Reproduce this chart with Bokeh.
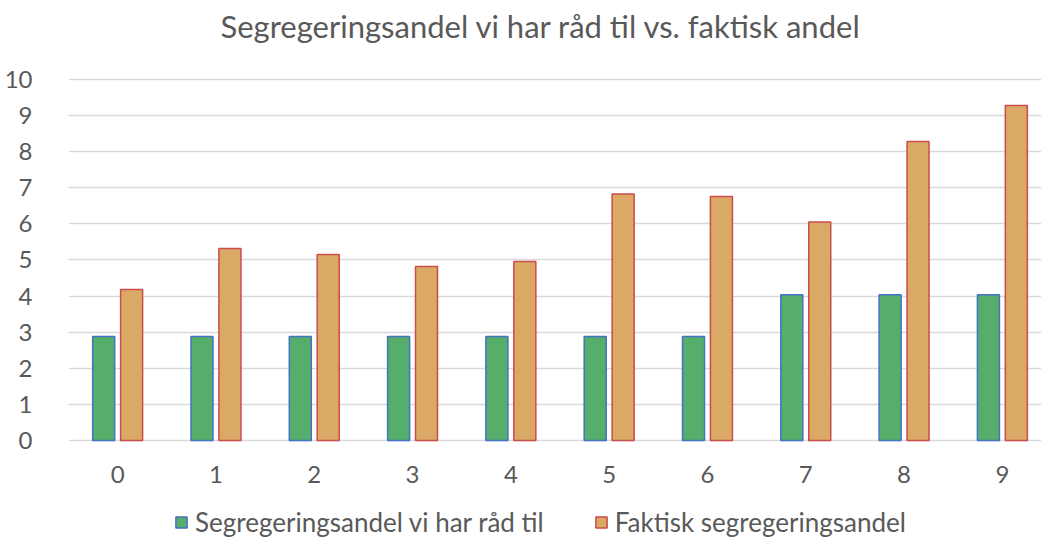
from bokeh.plotting import figure
from bokeh.models import ColumnDataSource, Range1d, FixedTicker, Legend, LegendItem
from bokeh.transform import dodge
from bokeh.embed import file_html
from bokeh.resources import INLINE

categories = ["0", "1", "2", "3", "4", "5", "6", "7", "8", "9"]
afford = [2.88, 2.88, 2.88, 2.88, 2.88, 2.88, 2.88, 4.04, 4.04, 4.04]
actual = [4.18, 5.32, 5.15, 4.82, 4.96, 6.83, 6.76, 6.05, 8.28, 9.28]
y_ticks = [0, 1, 2, 3, 4, 5, 6, 7, 8, 9, 10]

FONT = "Lato"
TXT = "#595959"

src = ColumnDataSource(dict(x=list(range(len(categories))), afford=afford, actual=actual))

# frame spans the area under the title down to the bottom edge; y=0..10 sits at 440..79 px
p = figure(frame_width=973, frame_height=491, output_backend="svg", toolbar_location=None,
           x_range=Range1d(-0.5, 9.398), y_range=Range1d(-2.715, 10.886),
           title="Segregeringsandel vi har råd til vs. faktisk andel")
p.min_border_left = 68
p.min_border_right = 0
p.min_border_top = 47
p.min_border_bottom = 0
p.outline_line_color = None

r1 = p.vbar(x=dodge("x", -0.142, range=p.x_range), top="afford", bottom=0, width=0.224, source=src,
            fill_color="#56AE6B", line_color="#4472C4", line_width=1.5)
r2 = p.vbar(x=dodge("x", 0.142, range=p.x_range), top="actual", bottom=0, width=0.224, source=src,
            fill_color="#D9A965", line_color="#CC4B4B", line_width=1.5)

p.title.align = "left"
p.title.offset = 152
p.title.text_font = FONT
p.title.text_font_size = "31px"
p.title.text_font_style = "normal"
p.title.text_color = TXT
p.title.standoff = 6

p.xgrid.grid_line_color = None
p.ygrid.grid_line_color = "#D9D9D9"
p.ygrid.grid_line_width = 1.5
p.ygrid.ticker = FixedTicker(ticks=y_ticks)

p.yaxis.ticker = FixedTicker(ticks=y_ticks)
p.xaxis.ticker = FixedTicker(ticks=list(range(len(categories))))
p.xaxis.major_label_overrides = {i: c for i, c in enumerate(categories)}
p.xaxis.fixed_location = 0
for ax in (p.xaxis[0], p.yaxis[0]):
    ax.axis_line_color = None
    ax.major_tick_line_color = None
    ax.minor_tick_line_color = None
    ax.major_label_text_font = FONT
    ax.major_label_text_font_size = "24px"
    ax.major_label_text_color = TXT
p.yaxis.major_label_standoff = 30
p.xaxis.major_label_standoff = 20

legend = Legend(items=[LegendItem(label="Segregeringsandel vi har råd til", renderers=[r1]),
                       LegendItem(label="Faktisk segregeringsandel", renderers=[r2])],
                orientation="horizontal", location=(106, 0),
                label_text_font=FONT, label_text_font_size="26px", label_text_color=TXT,
                glyph_width=14, glyph_height=14, label_standoff=7, spacing=50,
                border_line_color=None, background_fill_alpha=0, padding=0, margin=0)
p.add_layout(legend, "center")

open("out.html", "w").write(file_html(p, INLINE))
